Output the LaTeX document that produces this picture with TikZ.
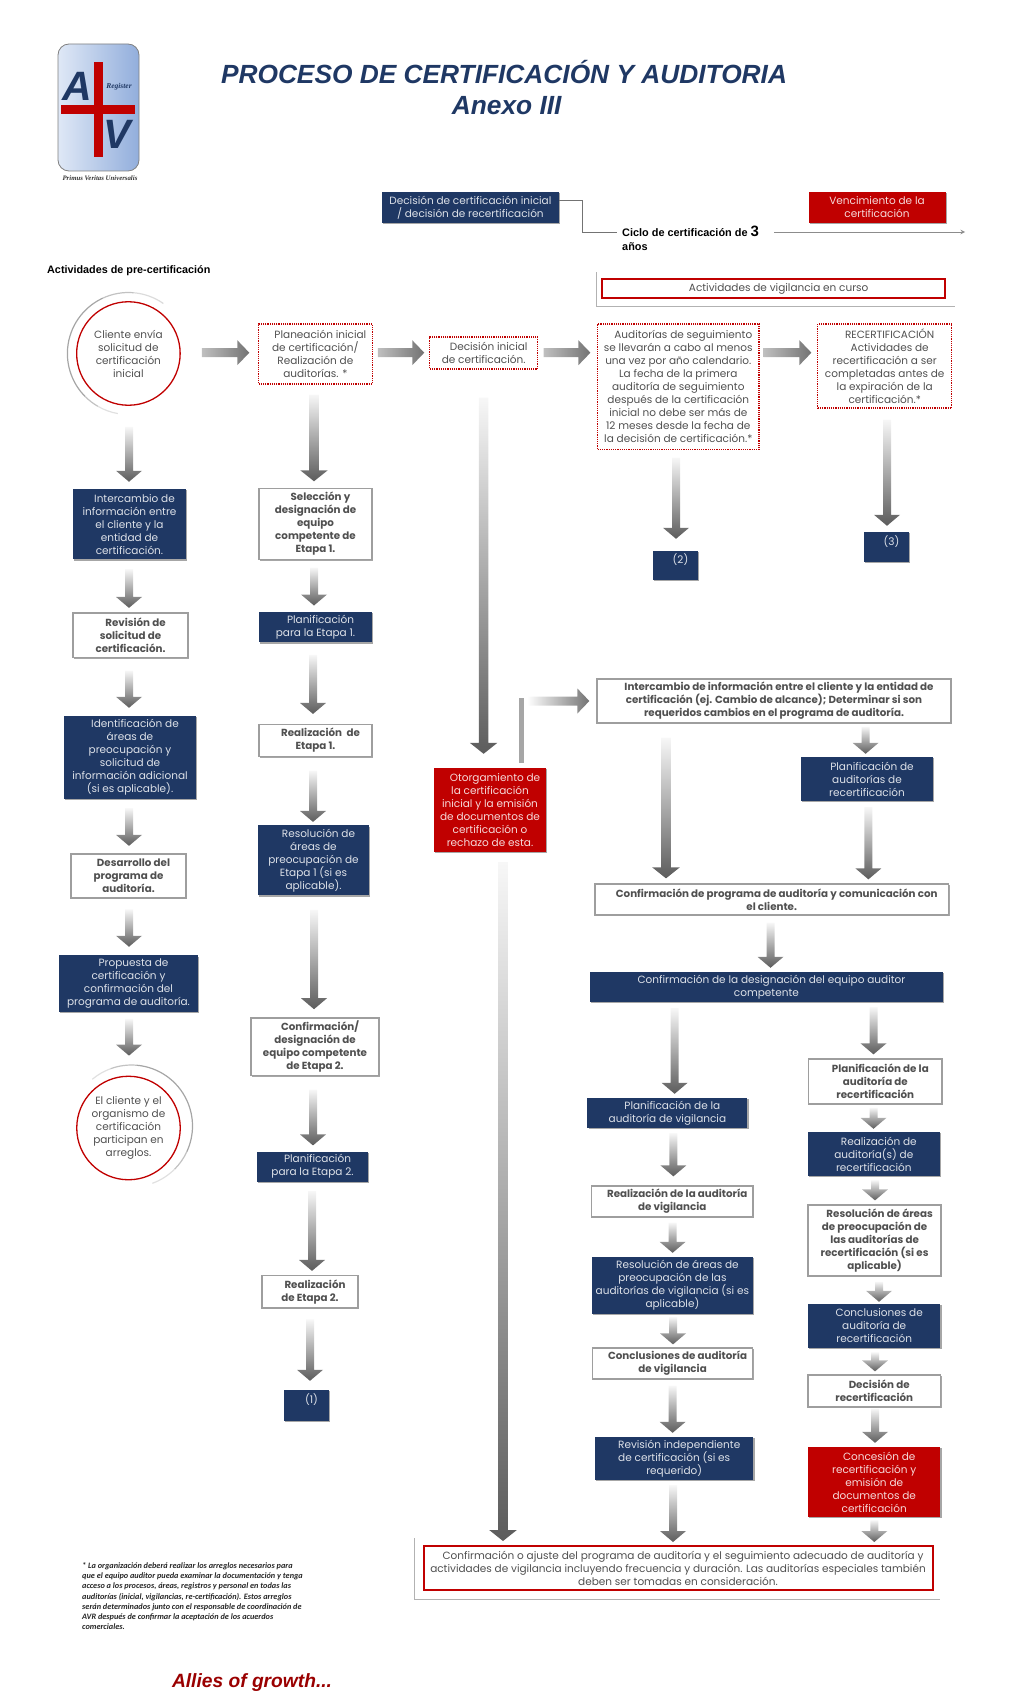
\documentclass[tikz,border=0pt]{standalone}
\usepackage{fontspec}
\setmainfont{Poppins}
\newfontfamily\arialfont{Liberation Sans}
\newfontfamily\notafont{Carlito}
\newfontfamily\logofont{Liberation Serif}
\usetikzlibrary{calc,shadows}
\definecolor{azul}{HTML}{1F3864}
\definecolor{rojo}{HTML}{C00000}
\definecolor{grisclaro}{HTML}{F7F7F7}
\definecolor{grisoscuro}{HTML}{5C5C5C}
\definecolor{texto}{HTML}{505050}
\definecolor{logoizq}{HTML}{DFE8F6}
\definecolor{logoder}{HTML}{92AEDC}
\newcommand{\sang}{\hspace*{10pt}}
\newcommand{\asta}{4}
\newcommand{\cabeza}{13}
% block arrows with a grey gradient, going down / to the right
\newcommand{\flechaV}[5]{
    \path[shade,top color=grisclaro,bottom color=grisoscuro]
        let \p1=(#1.south), \p2=(#2.north), \n1={\y1-#4pt}, \n2={\y2+#5pt} in
        (#3pt-\asta pt,\n1) -- (#3pt+\asta pt,\n1) -- (#3pt+\asta pt,\n2+11pt) -- (#3pt+\cabeza pt,\n2+11pt)
        -- (#3pt,\n2) -- (#3pt-\cabeza pt,\n2+11pt) -- (#3pt-\asta pt,\n2+11pt) -- cycle;
}
\newcommand{\flechaH}[6]{
    \path[shade,left color=#5,right color=black!55]
        let \p1=(#1.east), \p2=(#2.west), \n1={\x1+#3pt}, \n2={\x2-#4pt} in
        (\n1,-#6pt+4.5pt) -- (\n2-12pt,-#6pt+4.5pt) -- (\n2-12pt,-#6pt+12.5pt) -- (\n2,-#6pt)
        -- (\n2-12pt,-#6pt-12.5pt) -- (\n2-12pt,-#6pt-4.5pt) -- (\n1,-#6pt-4.5pt) -- cycle;
}
\tikzset{tam/.style 2 args={minimum width=#1pt,minimum height=#2pt}}

\begin{document}
\begin{tikzpicture}[x=1pt,y=-1pt]
    \tikzstyle{every node} = [rectangle,inner sep=0pt,align=center,font=\fontsize{10.5}{13}\selectfont]
    \tikzstyle{sombra} = [drop shadow={shadow xshift=1.2pt,shadow yshift=-1.2pt,opacity=.35,fill=black}]
    \tikzstyle{cajaazul} = [fill=azul,text=white!85!azul,sombra]
    \tikzstyle{cajaroja} = [fill=rojo,text=white!85!rojo,sombra]
    \tikzstyle{cajablanca} = [draw=black!38,line width=1.3pt,fill=white,text=texto,sombra,font=\fontsize{10.3}{13}\selectfont\bfseries]
    \tikzstyle{cajapuntos} = [draw=rojo,densely dotted,line width=1.2pt,text=texto]
    \tikzstyle{cajaborde} = [draw=rojo,line width=2pt,fill=white,text=texto]
    \tikzstyle{redondo} = [circle,draw=rojo,line width=1.3pt,text=texto,minimum size=103.5pt]
    \tikzstyle{marco} = [draw=black!30,line width=1pt]
    \useasboundingbox (0,0) rectangle (1024,1707);

    % logo
    \path[draw=black!50,line width=.8pt,left color=logoizq,right color=logoder,rounded corners=11pt] (58,44) rectangle (139,171);
    \node[text=azul,font=\arialfont\fontsize{41}{41}\selectfont\bfseries\itshape] (letraA) at (77,86) {A};
    \node[text=azul,font=\arialfont\fontsize{41}{41}\selectfont\bfseries\itshape] (letraV) at (117,134) {V};
    \fill[rojo] (94,62) rectangle (102.7,157);
    \fill[rojo] (61,105) rectangle (135,114);
    \node[text=azul,font=\logofont\fontsize{7.5}{8}\selectfont\bfseries\itshape] (register) at (119,87) {Register};
    \node[text=black!80,font=\logofont\fontsize{6.8}{8}\selectfont\bfseries\itshape] (lema) at (100,178) {Primus Veritas Universalis};

    % titles
    \node[text=azul,font=\arialfont\fontsize{26.3}{30}\selectfont\bfseries\itshape] (titulo) at (504,72) {PROCESO DE CERTIFICACIÓN Y AUDITORIA};
    \node[text=azul,font=\arialfont\fontsize{26.3}{30}\selectfont\bfseries\itshape] (anexo) at (506.7,106) {Anexo III};

    % certification cycle
    \node[cajaazul,tam={177.7}{31}] (decfin) at (470.4,207.5) {Decisión de certificación inicial\\ / decisión de recertificación};
    \node[cajaroja,tam={137}{31}] (venc) at (877,207.5) {Vencimiento de la\\certificación};
    \node[anchor=north west,align=left,font=\arialfont\fontsize{10.9}{14}\selectfont\bfseries] (ciclo) at (622,226) {Ciclo de certificación de {\fontsize{15}{14}\selectfont 3}\\años};
    \coordinate (ciclofin) at (617,232);
    \coordinate (flechaini) at (774,232);
    \coordinate (flechafin) at (965,232);
    \draw[black!55,line width=1pt] ([yshift=6.5pt]decfin.east) -- ++(23,0) |- (ciclofin);
    \draw[->,>=stealth,black!45,line width=1pt] (flechaini) -- (flechafin);
    \node[anchor=west,font=\arialfont\fontsize{10.8}{13}\selectfont\bfseries] (precert) at (47,271) {Actividades de pre-certificación};
    \draw[marco] (596.3,272) |- (955,306);
    \node[cajaborde,tam={343}{19}] (vigilancia) at (773.7,288.5) {\sang Actividades de vigilancia en curso};

    % first row
    \node[redondo] (cliente) at (128.4,353.5) {Cliente envía\\solicitud de\\certificación\\inicial};
    \node[cajapuntos,tam={113.6}{60}] (planeacion) at (315.4,354) {\sang Planeación inicial\\de certificación/\\Realización de\\auditorías. *};
    \node[cajapuntos,tam={107.7}{32}] (decini) at (483.7,353) {\sang Decisión inicial\\de certificación.};
    \node[cajapuntos,tam={161.4}{125.6}] (auditorias) at (678.3,386.8) {\sang Auditorías de seguimiento\\se llevarán a cabo al menos\\una vez por año calendario.\\La fecha de la primera\\auditoría de seguimiento\\después de la certificación\\inicial no debe ser más de\\12 meses desde la fecha de\\la decisión de certificación.*};
    \node[cajapuntos,tam={134}{84}] (recert) at (884.7,366) {\sang RECERTIFICACIÓN\\\sang Actividades de\\recertificación a ser\\completadas antes de\\la expiración de la\\certificación.*};
    \node[cajaazul,tam={45}{29}] (dos) at (675.5,565.5) {\sang(2)\\ };
    \node[cajaazul,tam={45}{30}] (tres) at (886.5,547) {\sang(3)\\ };

    % first column
    \node[cajaazul,tam={113}{70.5}] (intercambio) at (129.5,524.2) {\sang Intercambio de\\información entre\\el cliente y la\\entidad de\\certificación.};
    \node[cajablanca,tam={115}{44.5}] (revision) at (130.5,635.2) {\sang Revisión de\\solicitud de\\certificación.};
    \node[cajaazul,tam={132}{83}] (identificacion) at (130,757.5) {\sang Identificación de\\áreas de\\preocupación y\\solicitud de\\información adicional\\(si es aplicable).};
    \node[cajablanca,tam={115}{44}] (desarrollo) at (128.5,876) {\sang Desarrollo del\\programa de\\auditoría.};
    \node[cajaazul,tam={139}{56.5}] (propuesta) at (128.5,983.7) {\sang Propuesta de\\certificación y\\confirmación del\\programa de auditoría.};
    \node[redondo] (arreglos) at (128.5,1128) {El cliente y el\\organismo de\\certificación\\participan en\\arreglos.};

    % second column
    \node[cajablanca,tam={113}{71}] (seleccion) at (315.5,524) {\sang Selección y\\designación de\\equipo\\competente de\\Etapa 1.};
    \node[cajaazul,tam={113}{30.4}] (planifuno) at (315.5,627.2) {\sang Planificación\\para la Etapa 1.};
    \node[cajablanca,tam={113}{32}] (realizuno) at (315.5,740.4) {\sang Realización\ \ de\\Etapa 1.};
    \node[cajaazul,tam={111}{70}] (resoluno) at (313.5,860.4) {\sang Resolución de\\áreas de\\preocupación de\\Etapa 1 (si es\\aplicable).};
    \node[cajablanca,tam={128}{57.7}] (confirmdos) at (315,1046.9) {\sang Confirmación/\\designación de\\equipo competente\\de Etapa 2.};
    \node[cajaazul,tam={111}{30}] (planifdos) at (312.5,1166.6) {\sang Planificación\\para la Etapa 2.};
    \node[cajablanca,tam={96}{32.3}] (realizdos) at (310,1291.9) {\sang Realización\\de Etapa 2.};
    \node[cajaazul,tam={45}{31}] (uno) at (306.5,1405.5) {\sang(1)\\ };

    % centre
    \node[cajaroja,tam={112}{84}] (otorga) at (490,810) {\sang Otorgamiento de\\la certificación\\inicial y la emisión\\de documentos de\\certificación o\\rechazo de esta.};

    % right part
    \node[cajablanca,tam={354}{44}] (cambios) at (774,701) {\sang Intercambio de información entre el cliente y la entidad de\\certificación (ej. Cambio de alcance); Determinar si son\\requeridos cambios en el programa de auditoría.};
    \node[cajaazul,tam={132}{44}] (planifrec) at (867,779) {\sang Planificación de\\auditorías de\\recertificación};
    \node[cajablanca,tam={353.4}{31}] (confprog) at (771.7,899.5) {\sang Confirmación de programa de auditoría y comunicación con\\el cliente.};
    \node[cajaazul,tam={352.8}{30}] (confdesig) at (766.4,987) {\sang Confirmación de la designación del equipo auditor\\competente};
    \node[cajablanca,tam={133.3}{45}] (planifaudrec) at (875.3,1081.5) {\sang Planificación de la\\auditoría de\\recertificación};
    \node[cajaazul,tam={160}{30}] (planifvig) at (667.4,1113) {\sang Planificación de la\\auditoría de vigilancia};
    \node[cajaazul,tam={132.5}{44}] (realizrec) at (873.8,1154) {\sang Realización de\\auditoría(s) de\\recertificación};
    \node[cajablanca,tam={133}{71}] (resolrec) at (874.6,1240.5) {\sang Resolución de áreas\\de preocupación de\\las auditorías de\\recertificación (si es\\aplicable)};
    \node[cajaazul,tam={132.5}{44}] (conclrec) at (874.2,1326) {\sang Conclusiones de\\auditoría de\\recertificación};
    \node[cajablanca,tam={132.5}{32}] (decrec) at (874.2,1391) {\sang Decisión de\\recertificación};
    \node[cajaroja,tam={132.5}{70}] (concesion) at (874.2,1482) {\sang Concesión de\\recertificación y\\emisión de\\documentos de\\certificación};
    \node[cajablanca,tam={161.6}{31}] (realizvig) at (672.2,1201.5) {\sang Realización de la auditoría\\de vigilancia};
    \node[cajaazul,tam={160.4}{57}] (resolvig) at (672.4,1285.5) {\sang Resolución de áreas de\\preocupación de las\\auditorías de vigilancia (si es\\aplicable)};
    \node[cajablanca,tam={160}{31}] (conclvig) at (672.6,1363.5) {\sang Conclusiones de auditoría\\de vigilancia};
    \node[cajaazul,tam={158.4}{43}] (revindep) at (674.2,1458.5) {\sang Revisión independiente\\de certificación (si es\\requerido)};
    \draw[marco] (414.3,1538) |- (940,1599);
    \node[cajaborde,tam={509}{44}] (ajuste) at (678,1568) {\sang Confirmación o ajuste del programa de auditoría y el seguimiento adecuado de auditoría y\\actividades de vigilancia incluyendo frecuencia y duración. Las auditorías especiales también\\deben ser tomadas en consideración.};

    % down arrows: from/to/x/gap at start/gap at tip
    \foreach \from/\to/\ax/\ga/\gb in {
        cliente/intercambio/129/21/7, intercambio/revision/129/9.5/4.4, revision/identificacion/129/12.5/8,
        identificacion/desarrollo/129/9/7.5, desarrollo/propuesta/129/10.6/8.5, propuesta/arreglos/129/6.8/20,
        seleccion/planifuno/314/7.4/6.3, planifuno/realizuno/313/12.3/9.8,
        realizuno/resoluno/313/13.5/3.3, resoluno/confirmdos/314/14.3/8.2, confirmdos/planifdos/313/13.3/6,
        planifdos/realizdos/312/9.3/4.2, realizdos/uno/310/10.7/9,
        auditorias/dos/676/7.4/12, recert/tres/887/11/6,
        cambios/planifrec/865.6/3/3, planifrec/confprog/868.4/6/4,
        confprog/confdesig/770.5/7/4, confdesig/planifvig/674.6/6/4, confdesig/planifaudrec/873.5/5/4,
        planifaudrec/realizrec/873.5/3/3, realizrec/resolrec/875/4/4, resolrec/conclrec/879/5/2,
        conclrec/decrec/875/4/3, decrec/concesion/875/1/4, concesion/ajuste/874.3/3/3,
        planifvig/realizvig/673.4/5/9, realizvig/resolvig/672.6/5/4, resolvig/conclvig/673/3/3,
        conclvig/revindep/672.6/6/4, revindep/ajuste/673/5/3}
        {\flechaV{\from}{\to}{\ax}{\ga}{\gb}}

    % the long ones are a bit wider
    \renewcommand{\asta}{4.8}
    \renewcommand{\cabeza}{13.8}
    \foreach \from/\to/\ax/\ga/\gb in {planeacion/seleccion/314/10/6.6, decini/otorga/483.6/28/14,
        otorga/ajuste/503/10/4, cambios/confprog/666/14/5}
        {\flechaV{\from}{\to}{\ax}{\ga}{\gb}}

    % right arrows: from/to/gap at start/gap at tip/y
    \foreach \from/\to/\ga/\gb in {cliente/planeacion/21/8.7, planeacion/decini/5/5, decini/auditorias/5.5/6.6, auditorias/recert/4/5.7}
        {\flechaH{\from}{\to}{\ga}{\gb}{black!25}{352.7}}

    % from the grant box over to the top right box
    \coordinate (codo) at (521,698);
    \draw[black!35,line width=5pt,shorten >=5pt] (codo) -- (codo |- otorga.north);
    \flechaH{codo}{cambios}{6}{7}{white}{701}

    % grey rings
    \foreach \a/\b/\g in {55/85/14, 85/115/24, 115/225/35, 225/240/24, 240/260/12}
        \draw[black!\g,line width=1.2pt] ([shift={(\a:61pt)}]cliente.center) arc[start angle=\a,end angle=\b,radius=61pt];
    \foreach \a/\b/\g in {130/110/12, 110/85/24, 85/-25/35, -25/-45/24, -45/-70/12}
        \draw[black!\g,line width=1.2pt] ([shift={(\a:61pt)},xshift=3pt,yshift=2pt]arreglos.center) arc[start angle=\a,end angle=\b,radius=61pt];

    % note and slogan
    \node[anchor=north west,align=left,text=black!85,font=\notafont\fontsize{8.25}{10.3}\selectfont\itshape\bfseries] (nota) at (82,1562) {* La organización deberá realizar los arreglos necesarios para\\que el equipo auditor pueda examinar la documentación y tenga\\acceso a los procesos, áreas, registros y personal en todas las\\auditorías (inicial, vigilancias, re-certificación). Estos arreglos\\serán determinados junto con el responsable de coordinación de\\AVR después de confirmar la aceptación de los acuerdos\\comerciales.};
    \node[text=rojo!80!black,font=\arialfont\fontsize{19.2}{24}\selectfont\bfseries\itshape] (lealtad) at (252,1683) {Allies of growth...};
\end{tikzpicture}
\end{document}
